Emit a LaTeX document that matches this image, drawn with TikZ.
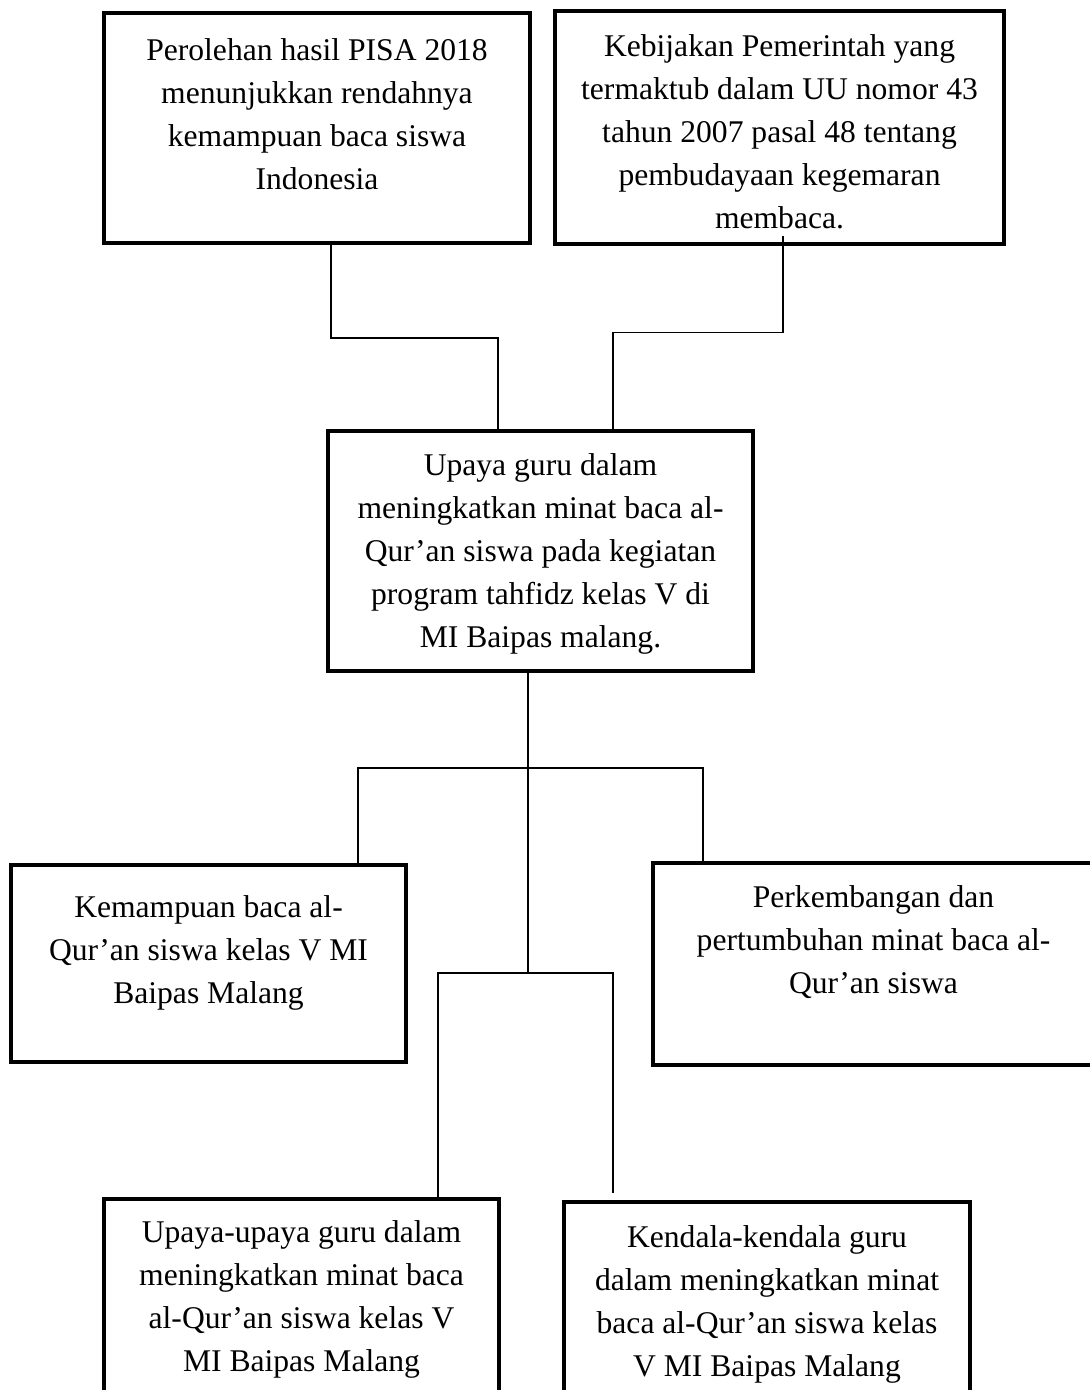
\documentclass[tikz,border=0pt]{standalone}
\usepackage{fontspec}
\setmainfont{Liberation Serif}
\usepackage{tikz}
\usetikzlibrary{positioning}

\begin{document}
\begin{tikzpicture}[
        box/.style={rectangle, draw, line width=2pt, outer sep=0pt, inner sep=0pt},
        txt/.style={align=center, inner sep=0pt, font=\fontsize{15.8pt}{21.5pt}\selectfont},
        line/.style={line width=0.7pt}
    ]
        \useasboundingbox (0,0) rectangle (545pt,-695pt);
        \clip (0,0) rectangle (545pt,-695pt);
        \node[box, minimum width=213pt, minimum height=115pt] (pisa) at (158.5pt,-64pt) {};
        \node[box, right=12.5pt of pisa, minimum width=224.5pt, minimum height=116.5pt] (uu) {};
        \node[box, below=94pt of pisa.south east, xshift=5.25pt, minimum width=212.5pt, minimum height=120pt] (upaya) {};
        \node[box, below=97pt of upaya.south west, xshift=-59.75pt, minimum width=197.5pt, minimum height=98.5pt] (mampu) {};
        \node[box, below=96pt of upaya.south east, xshift=60.25pt, minimum width=220.5pt, minimum height=101pt] (kembang) {};
        \node[box, below=68.5pt of mampu.south, xshift=46.5pt, minimum width=197.5pt, minimum height=100.5pt] (usaha) {};
        \node[box, below=68.5pt of kembang.south, xshift=-53.25pt, minimum width=203pt, minimum height=99pt] (kendala) {};
        \node[txt, below=12.5pt of pisa.north] (pisa-t) {Perolehan hasil PISA 2018\\menunjukkan rendahnya\\kemampuan baca siswa\\Indonesia};
        \node[txt, below=11.5pt of uu.north] (uu-t) {Kebijakan Pemerintah yang\\termaktub dalam UU nomor 43\\tahun 2007 pasal 48 tentang\\pembudayaan kegemaran\\membaca.};
        \node[txt, below=11pt of upaya.north] (upaya-t) {Upaya guru dalam\\meningkatkan minat baca al-\\Qur’an siswa pada kegiatan\\program tahfidz kelas V di\\MI Baipas malang.};
        \node[txt, below=15pt of mampu.north] (mampu-t) {Kemampuan baca al-\\Qur’an siswa kelas V MI\\Baipas Malang};
        \node[txt, below=11pt of kembang.north] (kembang-t) {Perkembangan dan\\pertumbuhan minat baca al-\\Qur’an siswa};
        \node[txt, below=10.5pt of usaha.north] (usaha-t) {Upaya-upaya guru dalam\\meningkatkan minat baca\\al-Qur’an siswa kelas V\\MI Baipas Malang};
        \node[txt, below=11.5pt of kendala.north] (kendala-t) {Kendala-kendala guru\\dalam meningkatkan minat\\baca al-Qur’an siswa kelas\\V MI Baipas Malang};
        % connectors
        \draw[line] ([xshift=7pt]pisa.south) -- ++(0,-47.5pt) -| ([xshift=-21.25pt]upaya.north);
        \draw[line, shorten <=-4pt] ([xshift=1.75pt]uu.south) -- ++(0,-44pt) -| ([xshift=36.25pt]upaya.north);
        \draw[line, line width=1.1pt] ([xshift=-6.25pt]upaya.south) -- ++(0,-48.5pt) coordinate (cabang);
        \draw[line] (cabang) -| ([xshift=74.75pt]mampu.north);
        \draw[line] (cabang) -| ([xshift=-85.25pt]kembang.north);
        \draw[line] (cabang) -- ++(0,-102.5pt) coordinate (cabang2);
        \draw[line] (cabang2) -| ([xshift=68.25pt]usaha.north);
        \draw[line, shorten >=4.5pt] (cabang2) -| ([xshift=-77pt]kendala.north);
    \end{tikzpicture}
\end{document}
